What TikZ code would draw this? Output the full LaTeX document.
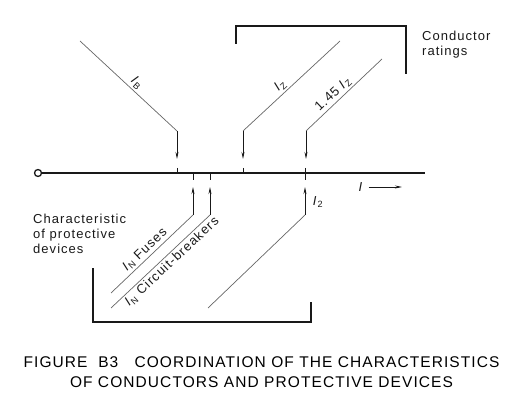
\documentclass[tikz,border=0pt]{standalone}
\usepackage{fontspec}
\setmainfont{Liberation Sans}[LetterSpace=8]
\newfontfamily\capfont{Liberation Sans}[LetterSpace=7]
\usetikzlibrary{arrows.meta, positioning}
\definecolor{lineBlack}{gray}{0.1}
\definecolor{diagGray}{gray}{0.4}
\newcommand{\cur}[1]{\textit{I}\textsubscript{#1}}

\begin{document}
\begin{tikzpicture}[x=1pt, y=-1pt,
    axisline/.style={line width=2.2pt, lineBlack},
    bracket/.style={line width=2.1pt, lineBlack},
    diag/.style={line width=0.7pt, diagGray},
    marker/.style={line width=0.8pt, lineBlack, -{Stealth[length=7pt, width=3pt]}},
    tickline/.style={line width=0.8pt, lineBlack},
    lbl/.style={font=\fontsize{13}{15}\selectfont, text=lineBlack, inner sep=2pt}]
    \useasboundingbox (0,0) rectangle (527,406);
    % 電流の軸
    \node[circle, draw=lineBlack, line width=1.3pt, fill=white, inner sep=0pt, minimum size=7pt] (origin) at (38,173) {};
    \coordinate (axisEnd) at (425,173);
    \draw[axisline] (origin) -- (axisEnd);
    \node[lbl] (Ilbl) at (361,187) {\textit{I}};
    \coordinate (Iend) at (402,187);
    \draw[marker] ([xshift=3pt]Ilbl.east) -- (Iend);

    \foreach \x/\a/\b in {177/168/173, 243/168/173, 193/173/180, 210/173/180, 305/168/180} {
        \draw[tickline] (\x,\a) -- (\x,\b);
    }

    % 導体の定格
    \coordinate (IBtop) at (80,41);
    \coordinate (IBbend) at (177,131);
    \coordinate (IBtip) at (177,159);
    \draw[diag] (IBtop) -- node[lbl, sloped, above, pos=0.53] (IBlbl) {\cur{B}} (IBbend);
    \draw[marker] (IBbend) -- (IBtip);

    \coordinate (IZtop) at (340,41);
    \coordinate (IZbend) at (243,131);
    \coordinate (IZtip) at (243,159);
    \draw[diag] (IZtop) -- node[lbl, sloped, above, pos=0.56] (IZlbl) {\cur{Z}} (IZbend);
    \draw[marker] (IZbend) -- (IZtip);

    \coordinate (IZZtop) at (382,59);
    \coordinate (IZZbend) at (306,131);
    \coordinate (IZZtip) at (306,159);
    \draw[diag] (IZZtop) -- node[lbl, sloped, above, pos=0.57] (IZZlbl) {1.45 \cur{Z}} (IZZbend);
    \draw[marker] (IZZbend) -- (IZZtip);

    \draw[bracket] (236,44) -- (236,26) -- (406,26) -- (406,74);
    \node[lbl, align=left, anchor=north west] (crLbl) at (420,29) {Conductor\\ratings};

    % 保護装置の特性
    \coordinate (FUbot) at (111,293);
    \coordinate (FUbend) at (193,215);
    \coordinate (FUtip) at (193,187);
    \draw[diag] (FUbend) -- node[lbl, sloped, above, pos=0.52] (FUlbl) {\cur{N} Fuses} (FUbot);
    \draw[marker] (FUbend) -- (FUtip);

    \coordinate (CBbot) at (111,308);
    \coordinate (CBbend) at (210,215);
    \coordinate (CBtip) at (210,187);
    \draw[diag] (CBbend) -- node[lbl, sloped, below, pos=0.44] (CBlbl) {\cur{N} Circuit-breakers} (CBbot);
    \draw[marker] (CBbend) -- (CBtip);

    \coordinate (I2bot) at (208,308);
    \coordinate (I2bend) at (305,215);
    \coordinate (I2tip) at (305,187);
    \draw[diag] (I2bend) -- (I2bot);
    \draw[marker] (I2bend) -- (I2tip);
    \node[lbl] (I2lbl) at (318,202) {\cur{2}};

    \draw[bracket] (93,268) -- (93,322) -- (311,322) -- (311,302);
    \node[lbl, align=left, anchor=north west] (pdLbl) at (31,212) {Characteristic\\of protective\\devices};

    % 図の見出し
    \node[font=\capfont\fontsize{15.5}{20}\selectfont, anchor=base, inner sep=0pt] (cap1) at (261.5,367)
        {FIGURE\ \ B3\ \ \ COORDINATION OF THE CHARACTERISTICS};
    \node[font=\capfont\fontsize{15.5}{20}\selectfont, anchor=base, inner sep=0pt] (cap2) at (261.5,387)
        {OF CONDUCTORS AND PROTECTIVE DEVICES};
\end{tikzpicture}
\end{document}
